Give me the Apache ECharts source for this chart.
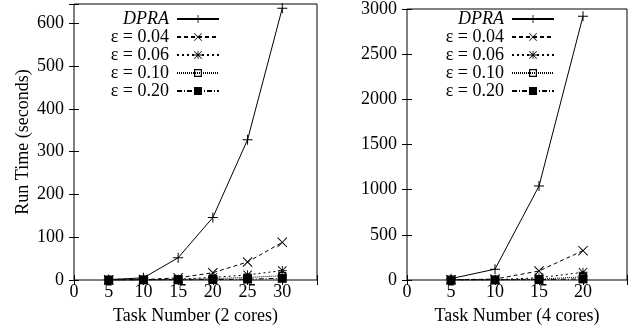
<!DOCTYPE html>
<html>
<head>
<meta charset="utf-8">
<script src="https://cdn.jsdelivr.net/npm/echarts@6/dist/echarts.min.js"></script>
<style>
 html, body { margin: 0; padding: 0; background: #fff; }
 #main { width: 638px; height: 330px; }
</style>
</head>
<body>
<div id="main"></div>
<script>
 // 数据 (2 cores)
 var tasks2 = [5, 10, 15, 20, 25, 30];
 var dpra2 = [1, 5, 52, 146, 328, 635];
 var eps04_2 = [0, 1, 5, 17, 42, 88];
 var eps06_2 = [0, 0.5, 2, 6, 12, 22];
 var eps10_2 = [0, 0.3, 1, 3, 6, 10];
 var eps20_2 = [0, 0.2, 0.5, 1, 2, 4];

 // 数据 (4 cores)
 var tasks4 = [5, 10, 15, 20];
 var dpra4 = [15, 120, 1040, 2920];
 var eps04_4 = [2, 10, 100, 325];
 var eps06_4 = [1, 3, 25, 85];
 var eps10_4 = [0, 1, 10, 35];
 var eps20_4 = [0, 0.5, 4, 12];

 var names = ['DPRA', 'ε = 0.04', 'ε = 0.06', 'ε = 0.10', 'ε = 0.20'];

 var plusPath = 'M4.5,0H5.5V4.5H10V5.5H5.5V10H4.5V5.5H0V4.5H4.5Z';
 var crossPath = 'M0,0.7L0.7,0L5,4.3L9.3,0L10,0.7L5.7,5L10,9.3L9.3,10L5,5.7L0.7,10L0,9.3L4.3,5Z';
 var boxPath = 'M0,0H10V10H0Z M1.5,1.5V8.5H8.5V1.5Z';
 var symbols = [
   'path://' + plusPath,
   'path://' + crossPath,
   'path://' + plusPath + crossPath,
   'path://' + boxPath,
   'rect'
 ];
 var sizes = [10, 10, 9, 8, 9];
 var dashes = ['solid', [4, 3], [2, 3], [1, 1], [5, 2, 1, 2]];

 var font = '"Liberation Serif", "DejaVu Serif", serif';

 function zip(xs, ys) {
   return xs.map(function (x, i) { return [x, ys[i]]; });
 }

 var series = [];
 [[dpra2, eps04_2, eps06_2, eps10_2, eps20_2], [dpra4, eps04_4, eps06_4, eps10_4, eps20_4]].forEach(function (group, g) {
   var xs = g === 0 ? tasks2 : tasks4;
   group.forEach(function (ys, k) {
     series.push({
       name: names[k],
       type: 'line',
       xAxisIndex: g * 2,
       yAxisIndex: g * 2,
       data: zip(xs, ys),
       symbol: symbols[k],
       symbolSize: sizes[k],
       showAllSymbol: true,
       animation: false,
       itemStyle: { color: '#000' },
       lineStyle: { color: '#000', width: 1, type: dashes[k] },
       emphasis: { disabled: true }
     });
   });
 });

 function xAxisPair(gi, max) {
   return [{
     type: 'value', gridIndex: gi, min: 0, max: max, interval: 5,
     name: gi === 0 ? 'Task Number (2 cores)' : 'Task Number (4 cores)',
     nameLocation: 'middle', nameGap: 27,
     nameTextStyle: { fontFamily: font, fontSize: 18, color: '#000' },
     axisLine: { show: false },
     axisTick: { inside: true, length: 5, lineStyle: { color: '#000' } },
     splitLine: { show: false },
     axisLabel: {
       fontFamily: font, fontSize: 18, color: '#000', margin: 3,
       formatter: function (v) { return v === max ? '' : String(v); }
     }
   }, {
     type: 'value', gridIndex: gi, position: 'top', min: 0, max: max, interval: 5,
     axisLine: { show: false },
     axisTick: { inside: true, length: 5, lineStyle: { color: '#000' } },
     splitLine: { show: false },
     axisLabel: { show: false }
   }];
 }

 function yAxisPair(gi, max, step, title) {
   return [{
     type: 'value', gridIndex: gi, min: 0, max: max, interval: step,
     name: title, nameLocation: 'middle', nameGap: 42,
     nameTextStyle: { fontFamily: font, fontSize: 18, color: '#000' },
     axisLine: { show: false },
     axisTick: { inside: true, length: 5, lineStyle: { color: '#000' } },
     splitLine: { show: false },
     axisLabel: {
       fontFamily: font, fontSize: 18, color: '#000', margin: 10,
       formatter: function (v) { return v % step === 0 ? String(v) : ''; }
     }
   }, {
     type: 'value', gridIndex: gi, position: 'right', min: 0, max: max, interval: step,
     axisLine: { show: false },
     axisTick: { inside: true, length: 5, lineStyle: { color: '#000' } },
     splitLine: { show: false },
     axisLabel: { show: false }
   }];
 }

 function legendFor(right) {
   return {
     data: names,
     orient: 'vertical',
     align: 'right',
     right: right,
     top: 10,
     padding: 0,
     itemWidth: 42,
     itemHeight: 10,
     itemGap: 0,
     selectedMode: false,
     formatter: function (n) { return n === 'DPRA' ? '{i|DPRA}' : n; },
     textStyle: {
       fontFamily: font, fontSize: 18, lineHeight: 15, color: '#000', padding: [0, 3, 0, 0],
       rich: { i: { fontFamily: font, fontSize: 18, lineHeight: 15, fontStyle: 'italic', color: '#000' } }
     }
   };
 }

 var myChart = echarts.init(document.getElementById('main'));
 var options = {
   backgroundColor: '#fff',
   animation: false,
   grid: [
     { left: 74, top: 4, width: 243, height: 277, show: true, borderColor: '#000', borderWidth: 1, backgroundColor: 'transparent' },
     { left: 407, top: 5, width: 220, height: 275, show: true, borderColor: '#000', borderWidth: 1, backgroundColor: 'transparent' }
   ],
   legend: [legendFor(418), legendFor(83)],
   xAxis: xAxisPair(0, 35).concat(xAxisPair(1, 25)),
   yAxis: yAxisPair(0, 645, 100, 'Run Time (seconds)').concat(yAxisPair(1, 3000, 500, '')),
   series: series
 };
 myChart.setOption(options);
</script>
</body>
</html>
